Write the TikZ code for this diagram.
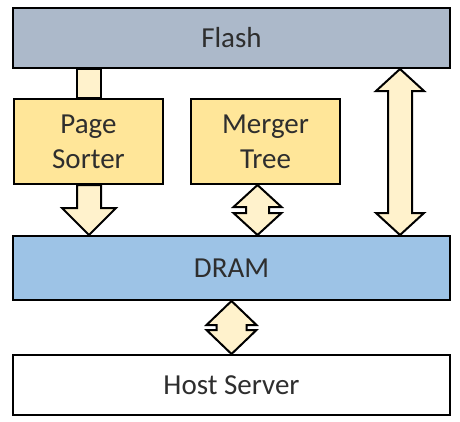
\documentclass[tikz,border=0pt]{standalone}
\usepackage{fontspec}
\setmainfont{Carlito}
\usetikzlibrary{positioning,calc}
\definecolor{flashgray}{HTML}{ACB9CA}
\definecolor{dramblue}{HTML}{9DC3E6}
\definecolor{unityellow}{HTML}{FFE699}
\definecolor{arrowcream}{HTML}{FFF2CC}
\definecolor{labelgray}{HTML}{2E2E2E}

\begin{document}
\begin{tikzpicture}[x=1pt,y=-1pt,
layer/.style={
draw=black,
line width=2pt,
minimum width=437pt,
minimum height=60pt,
inner sep=0pt,
font=\fontsize{29}{35}\selectfont,
text=labelgray,
},
unit/.style={
draw=black,
line width=2pt,
fill=unityellow,
minimum width=149pt,
minimum height=85pt,
inner sep=0pt,
align=center,
font=\fontsize{29}{35}\selectfont,
text=labelgray,
},
blockarrow/.style={
draw=black,
line width=2pt,
fill=arrowcream,
line join=miter,
}
]
\useasboundingbox (0,0) rectangle (460,421);
\node [layer,fill=flashgray] (flash) at (231.5,38) {Flash};
\node [unit] (sorter) at (88.5,141.5) {Page\\Sorter};
\node [unit] (merger) at (265.5,141.5) {Merger\\Tree};
\node [layer,fill=dramblue,minimum height=64pt] (dram) at (231.5,268) {DRAM};
\node [layer,fill=white] (host) at (231.5,385) {Host Server};

\coordinate (sorterx) at (89,0);
\coordinate (mergerx) at (257.5,0);
\coordinate (flashx) at (400,0);

% flash feeds the page sorter
\draw [blockarrow] ($(flash.south -| sorterx)+(-12,0)$) rectangle ($(sorter.north -| sorterx)+(12,0)$);
\draw [blockarrow] ($(sorter.south -| sorterx)+(-12,0)$) -- ($(dram.north -| sorterx)+(-12,-27)$) -- ++(-15,0)
		-- (dram.north -| sorterx) -- ++(27,-27) -- ++(-15,0) -- ($(sorter.south -| sorterx)+(12,0)$) -- cycle;
\foreach \top/\bot/\w/\s/\h in{%
									flash.south -| flashx/dram.north -| flashx/24/12/22,
									merger.south -| mergerx/dram.north -| mergerx/24/11.5/22,
									dram.south/host.north/25/15/24%
									}
		{
		\draw [blockarrow] (\top) -- ++(\w,\h) -- ++(\s-\w,0) -- ($(\bot)+(\s,-\h)$) -- ++(\w-\s,0) -- (\bot)
				-- ++(-\w,-\h) -- ++(\w-\s,0) -- ($(\top)+(-\s,\h)$) -- ++(\s-\w,0) -- cycle;
		}
\end{tikzpicture}
\end{document}
